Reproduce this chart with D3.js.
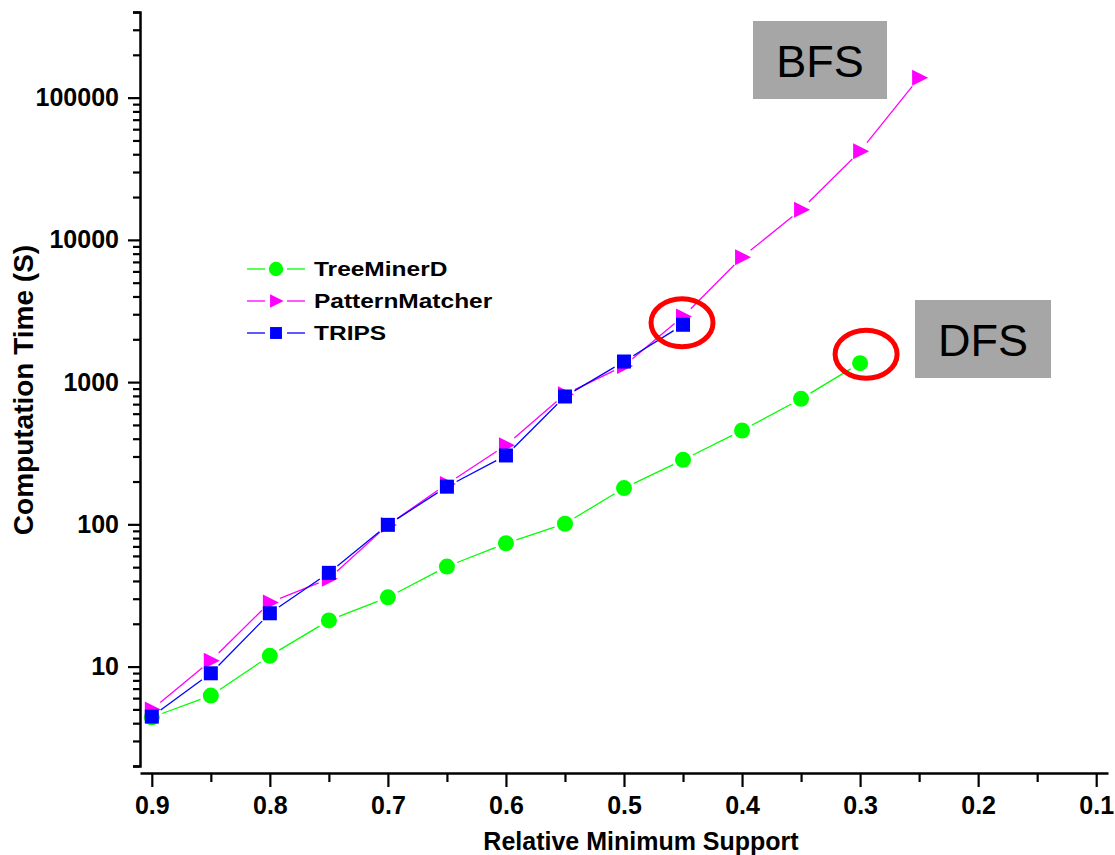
<!DOCTYPE html>
<html><head><meta charset="utf-8">
<script src="https://cdn.jsdelivr.net/npm/d3@7"></script>
<style>body{margin:0;background:#fff}svg{display:block}text{font-family:"Liberation Sans",Arial,Helvetica,sans-serif}</style>
</head><body><svg id="c" width="1115" height="855"></svg>
<script>
const supportTreeMinerD = [0.9,0.85,0.8,0.75,0.7,0.65,0.6,0.55,0.5,0.45,0.4,0.35,0.3];
const timeTreeMinerD = [4.4,6.25,11.9,21.1,30.7,50.5,73.6,101,180,284,457,763,1358];
const supportPatternMatcher = [0.9,0.85,0.8,0.75,0.7,0.65,0.6,0.55,0.5,0.45,0.4,0.35,0.3,0.25];
const timePatternMatcher = [5.0,11.0,28.2,41.5,99,192,360,820,1300,2890,7560,16300,42000,138000];
const supportTRIPS = [0.9,0.85,0.8,0.75,0.7,0.65,0.6,0.55,0.5,0.45];
const timeTRIPS = [4.45,8.97,23.7,45.6,99.2,184,305,792,1396,2530];
const xTicks = [0.9,0.8,0.7,0.6,0.5,0.4,0.3,0.2,0.1];
const xMinorTicks = [0.85,0.75,0.65,0.55,0.45,0.35,0.25,0.15];
const yTicks = [10,100,1000,10000,100000];
const seriesNames = ["TreeMinerD","PatternMatcher","TRIPS"];
const seriesColors = ["#00ff00","#ff00ff","#0000ff"];
const seriesShapes = ["circle","triangle","square"];
const annotations = ["BFS","DFS"];

const svg = d3.select("#c");
const x = d3.scaleLinear().domain([0.91,0.09]).range([140,1108]);
const y = d3.scaleLog().domain([2,400000]).range([766,12]);

const yMinor = [];
for (let d=1; d<=100000; d*=10) for (let k=2;k<=9;k++){const v=k*d; if(v>=2&&v<=400000) yMinor.push(v);}
const gy = svg.append("g").attr("transform","translate(140,0)");
gy.call(d3.axisLeft(y).tickValues(yMinor).tickSize(7).tickFormat(""));
gy.append("g").call(d3.axisLeft(y).tickValues(yTicks).tickSize(12).tickPadding(9).tickFormat(d3.format("d")));
gy.selectAll("path.domain").attr("stroke","#000").attr("stroke-width",2.5);
gy.selectAll(".tick line").attr("stroke","#000").attr("stroke-width",2.2);
gy.selectAll(".tick text").attr("font-size",25).attr("font-weight","bold").attr("fill","#000")
  .attr("font-family","'Liberation Sans',Arial,sans-serif");
gy.selectAll("g g path.domain").remove();

const gx = svg.append("g").attr("transform","translate(0,773)");
gx.call(d3.axisBottom(x).tickValues(xMinorTicks).tickSize(9).tickFormat("").tickSizeOuter(0));
gx.append("g").call(d3.axisBottom(x).tickValues(xTicks).tickSize(14).tickPadding(9).tickFormat(d3.format(".1f")).tickSizeOuter(0));
gx.selectAll("path.domain").attr("stroke","#000").attr("stroke-width",2.5);
gx.selectAll(".tick line").attr("stroke","#000").attr("stroke-width",2.2);
gx.selectAll(".tick text").attr("font-size",25).attr("font-weight","bold").attr("fill","#000")
  .attr("font-family","'Liberation Sans',Arial,sans-serif");
gx.selectAll("g g path.domain").remove();

svg.append("text").attr("x",641).attr("y",850).attr("text-anchor","middle")
  .attr("font-size",25).attr("font-weight","bold").text("Relative Minimum Support");
svg.append("text").attr("transform","translate(33,390) rotate(-90)").attr("text-anchor","middle")
  .attr("font-size",28).attr("font-weight","bold").text("Computation Time (S)");

function marker(g, shape, cx, cy, color, s){
  if(shape==="circle") g.append("circle").attr("cx",cx).attr("cy",cy).attr("r",8*s).attr("fill",color);
  else if(shape==="square") g.append("rect").attr("x",cx-7*s).attr("y",cy-7*s).attr("width",14*s).attr("height",14*s).attr("fill",color);
  else g.append("path").attr("d",`M${cx-7*s},${cy-8*s}L${cx+9*s},${cy}L${cx-7*s},${cy+8*s}Z`).attr("fill",color);
}
const allData = [
  [supportTreeMinerD,timeTreeMinerD],
  [supportPatternMatcher,timePatternMatcher],
  [supportTRIPS,timeTRIPS]
];
const gap = 11;
allData.forEach(([xs,ys],i)=>{
  const g = svg.append("g");
  const pts = xs.map((v,j)=>[x(v),y(ys[j])]);
  for(let j=0;j<pts.length-1;j++){
    const [x1,y1]=pts[j],[x2,y2]=pts[j+1];
    const L=Math.hypot(x2-x1,y2-y1); if(L<=2*gap) continue;
    const ux=(x2-x1)/L, uy=(y2-y1)/L;
    g.append("line").attr("x1",x1+ux*gap).attr("y1",y1+uy*gap).attr("x2",x2-ux*gap).attr("y2",y2-uy*gap)
      .attr("stroke",seriesColors[i]).attr("stroke-width",1.3);
  }
  pts.forEach(p=>marker(g,seriesShapes[i],p[0],p[1],seriesColors[i],1));
});

// legend
seriesNames.forEach((n,i)=>{
  const ly = 269 + i*32;
  const g = svg.append("g");
  g.append("line").attr("x1",247).attr("x2",265).attr("y1",ly).attr("y2",ly).attr("stroke",seriesColors[i]).attr("stroke-width",1.3);
  g.append("line").attr("x1",287).attr("x2",305).attr("y1",ly).attr("y2",ly).attr("stroke",seriesColors[i]).attr("stroke-width",1.3);
  marker(g,seriesShapes[i],276,ly,seriesColors[i],seriesShapes[i]==="circle"?0.9:0.85);
  g.append("text").attr("transform",`translate(314,${ly+7}) scale(1,0.84)`).attr("font-size",24.5).attr("font-weight","bold").text(n);
});

// annotation boxes
const boxes = [{x:753,y:21,w:134,h:78},{x:915,y:300,w:136,h:78}];
boxes.forEach((b,i)=>{
  svg.append("rect").attr("x",b.x).attr("y",b.y).attr("width",b.w).attr("height",b.h).attr("fill","#a6a6a6");
  svg.append("text").attr("x",b.x+b.w/2).attr("y",b.y+56).attr("text-anchor","middle")
    .attr("font-size",45).attr("fill","#000").text(annotations[i]);
});
// red ellipses highlighting last TRIPS / TreeMinerD points
const circled = [
  {sx:supportTRIPS[supportTRIPS.length-1], sy:timeTRIPS[timeTRIPS.length-1], dx:-1, dy:-2},
  {sx:supportTreeMinerD[supportTreeMinerD.length-1], sy:timeTreeMinerD[timeTreeMinerD.length-1], dx:6, dy:-9}
];
circled.forEach(c=>{
  svg.append("ellipse").attr("cx",x(c.sx)+c.dx).attr("cy",y(c.sy)+c.dy).attr("rx",31).attr("ry",24)
    .attr("fill","none").attr("stroke","#f00").attr("stroke-width",5);
});
</script></body></html>
